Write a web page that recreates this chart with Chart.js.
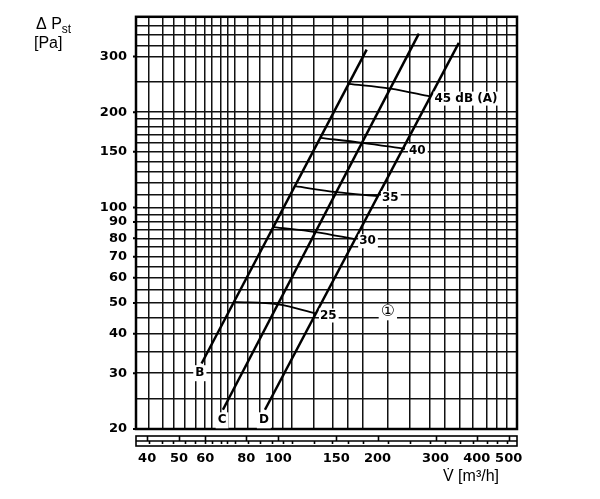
<!DOCTYPE html>
<html>
<head>
<meta charset="utf-8">
<script src="https://cdn.jsdelivr.net/npm/chart.js@4/dist/chart.umd.min.js"></script>
<style>
  html, body { margin: 0; padding: 0; background: #fff; }
  #caja { width: 600px; height: 499px; }
</style>
</head>
<body>
<div id="caja"><canvas id="grafica"></canvas></div>
<script>
// Curvas B, C, D: caudal (m3/h) y presion estatica (Pa) en sus extremos
const caudalB = [58.5, 185.4];
const presionB = [32.2, 315];
const caudalC = [67.9, 267];
const presionC = [23.0, 354];
const caudalD = [91.1, 353];
const presionD = [23.0, 331];

// Lineas de nivel sonoro (cortes con B, C y D)
const nivelesDb = ['25', '30', '35', '40', '45 dB (A)'];
const caudalDb = [
  [73.4, 99.8, 130.1],
  [96.6, 129.9, 171.1],
  [112.3, 150.2, 200.7],
  [134.1, 179.7, 242.3],
  [163.5, 218.8, 289.6]
];
const presionDb = [
  [50.4, 49.5, 46.3],
  [86.8, 83.7, 79.4],
  [116.8, 111.9, 108.7],
  [166, 160.1, 153.3],
  [245.6, 237.4, 224]
];

// Etiquetas sueltas
const letras = ['B', 'C', 'D', '\u2460'];
const letrasCaudal = [57.8, 67.5, 90.4, 215];
const letrasPresion = [30.0, 21.3, 21.3, 46.7];

// Rejilla y marcas de los ejes
const rejillaX = [40.5, 44.5, 48, 52, 56, 60, 63, 67, 70, 74, 81, 88, 96, 103, 110, 128, 146, 163, 181, 215, 251, 288, 321, 356, 390, 430, 461, 494];
const rotulosX = [40, 50, 60, 80, 100, 150, 200, 300, 400, 500];
const rejillaY = [25, 30, 35, 40, 45, 50, 55, 60, 65, 70, 75, 80, 85, 90, 95, 100, 110, 120, 130, 140, 150, 160, 170, 180, 190, 200, 250, 300, 325, 350, 375];
const rotulosY = [20, 30, 40, 50, 60, 70, 80, 90, 100, 150, 200, 300];

const puntos = (xs, ys) => xs.map((v, i) => ({ x: v, y: ys[i] }));

const conjuntos = [
  { data: puntos(caudalB, presionB), borderWidth: 2.5 },
  { data: puntos(caudalC, presionC), borderWidth: 2.5 },
  { data: puntos(caudalD, presionD), borderWidth: 2.5 }
];
nivelesDb.forEach((n, i) => {
  conjuntos.push({ data: puntos(caudalDb[i], presionDb[i]), borderWidth: 1.8, tension: 0.35 });
});
conjuntos.forEach(c => {
  c.borderColor = '#000';
  c.pointRadius = 0;
  c.fill = false;
});

const fuenteEje = { family: 'DejaVu Sans', size: 13, weight: 'bold' };

function marcas(valores) {
  return function (escala) {
    escala.ticks = valores.map(v => ({ value: v }));
  };
}

const extras = {
  id: 'extras',
  afterDatasetsDraw(chart) {
    const { ctx, chartArea: a, scales: { x, y } } = chart;
    ctx.save();

    // marco
    ctx.strokeStyle = '#000';
    ctx.lineWidth = 2.5;
    ctx.strokeRect(a.left, a.top, a.right - a.left, a.bottom - a.top);

    // marquitas fuera del marco en los valores rotulados
    ctx.lineWidth = 2;
    ctx.beginPath();
    rotulosY.forEach(v => {
      const py = y.getPixelForValue(v);
      ctx.moveTo(a.left - 3, py);
      ctx.lineTo(a.left, py);
    });
    ctx.stroke();

    // regla bajo el eje x
    const r0 = a.bottom + 7, r1 = a.bottom + 17, rm = (r0 + r1) / 2;
    ctx.lineWidth = 1.6;
    ctx.strokeRect(a.left, r0, a.right - a.left, r1 - r0);
    ctx.beginPath();
    ctx.moveTo(a.left, rm);
    ctx.lineTo(a.right, rm);
    rotulosX.forEach(v => {
      const px = Math.round(x.getPixelForValue(v)) + 0.5;
      ctx.moveTo(px, r0);
      ctx.lineTo(px, rm);
    });
    rejillaX.forEach(v => {
      const px = Math.round(x.getPixelForValue(v)) + 0.5;
      ctx.moveTo(px, rm);
      ctx.lineTo(px, rm + 3);
    });
    ctx.stroke();

    // rotulos con fondo blanco
    ctx.textBaseline = 'middle';
    ctx.font = 'bold 12px "DejaVu Sans"';
    nivelesDb.forEach((n, i) => {
      const px = x.getPixelForValue(caudalDb[i][2]) + 4;
      const py = y.getPixelForValue(presionDb[i][2]) + 2;
      const w = ctx.measureText(n).width;
      ctx.fillStyle = '#fff';
      ctx.fillRect(px - 1, py - 7, w + 3, 14);
      ctx.fillStyle = '#000';
      ctx.textAlign = 'left';
      ctx.fillText(n, px, py);
    });
    letras.forEach((t, i) => {
      const px = x.getPixelForValue(letrasCaudal[i]);
      const py = y.getPixelForValue(letrasPresion[i]);
      ctx.font = i === 3 ? '16px "DejaVu Sans", "Noto Sans CJK SC"' : 'bold 12px "DejaVu Sans"';
      const w = ctx.measureText(t).width;
      ctx.fillStyle = '#fff';
      ctx.fillRect(px - w / 2 - 2, py - 8, w + 4, 16);
      ctx.fillStyle = '#000';
      ctx.textAlign = 'center';
      ctx.fillText(t, px, py);
    });

    // titulos de los ejes
    ctx.textAlign = 'left';
    ctx.textBaseline = 'alphabetic';
    ctx.font = '16px "Liberation Sans"';
    ctx.fillText('\u0394 P', 36, 29);
    const wP = ctx.measureText('\u0394 P').width;
    ctx.font = '12px "Liberation Sans"';
    ctx.fillText('st', 36 + wP, 33);
    ctx.font = '16px "Liberation Sans"';
    ctx.fillText('[Pa]', 34, 48);
    ctx.fillText('V\u0307 [m\u00b3/h]', 443, 481);

    ctx.restore();
  }
};

new Chart(document.getElementById('grafica'), {
  type: 'line',
  data: { datasets: conjuntos },
  plugins: [extras],
  options: {
    responsive: true,
    maintainAspectRatio: false,
    animation: false,
    layout: { padding: { top: 16, right: 83, left: 0, bottom: 0 } },
    plugins: { legend: { display: false }, tooltip: { enabled: false } },
    scales: {
      x: {
        type: 'logarithmic',
        min: 37,
        max: 530,
        afterFit: e => { e.height = 70; },
        afterBuildTicks: marcas([...new Set([...rejillaX, ...rotulosX])].sort((p, q) => p - q)),
        border: { display: false },
        grid: {
          color: c => (c.tick && rejillaX.includes(c.tick.value)) ? '#111' : 'rgba(0,0,0,0)',
          lineWidth: 1.5,
          drawTicks: false
        },
        ticks: {
          autoSkip: false,
          maxRotation: 0,
          padding: 22,
          color: '#000',
          font: fuenteEje,
          callback: v => rotulosX.includes(v) ? String(v) : ''
        }
      },
      y: {
        type: 'logarithmic',
        min: 20,
        max: 400,
        afterFit: e => { e.width = 136; },
        afterBuildTicks: marcas([...new Set([...rejillaY, ...rotulosY])].sort((p, q) => p - q)),
        border: { display: false },
        grid: { color: '#111', lineWidth: 1.5, drawTicks: false },
        ticks: {
          autoSkip: false,
          padding: 9,
          color: '#000',
          font: fuenteEje,
          callback: v => rotulosY.includes(v) ? String(v) : ''
        }
      }
    }
  }
});
</script>
</body>
</html>
